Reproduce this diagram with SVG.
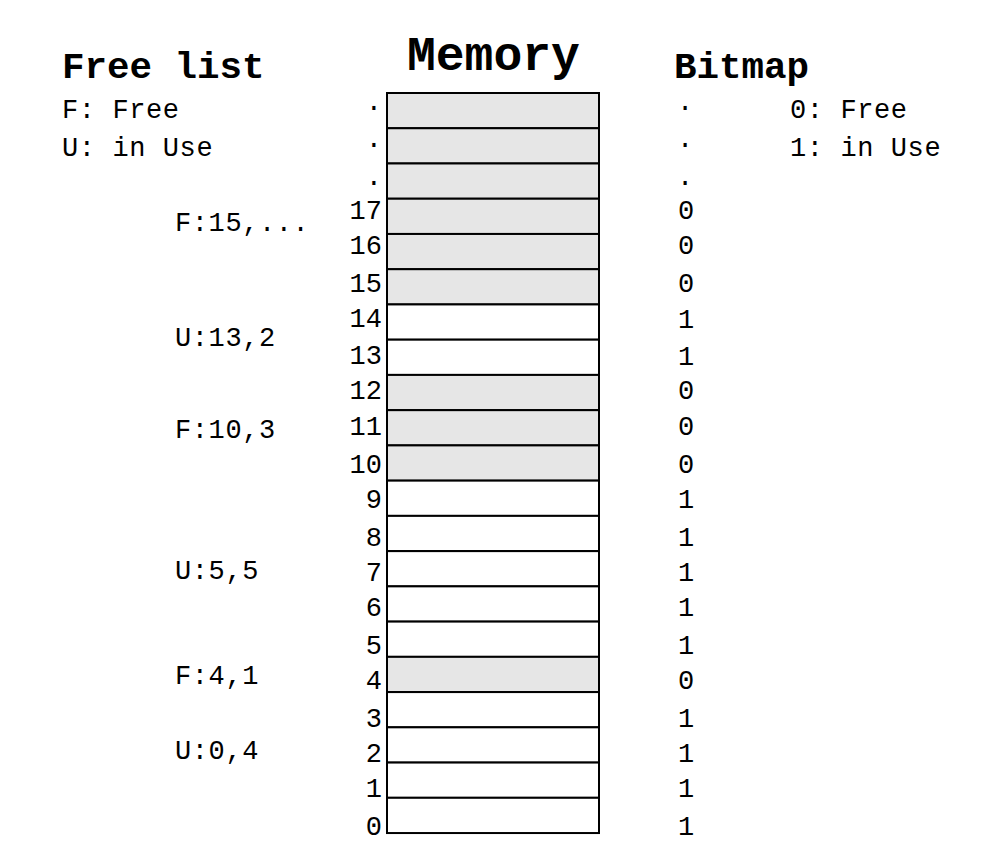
<svg xmlns="http://www.w3.org/2000/svg" width="987" height="864" viewBox="0 0 987 864">
<style>
text{font-family:"Liberation Mono","DejaVu Sans Mono",monospace;fill:#000}
.t{font-weight:bold;font-size:37.5px}
.m{font-weight:bold;font-size:48px}
.s{font-size:27px;letter-spacing:0.6px}
.n{font-size:27px;text-anchor:end}
.b{font-size:27px;text-anchor:middle}
.g{fill:#e6e6e6;stroke:#000;stroke-width:2}
.w{fill:#fff;stroke:#000;stroke-width:2}
</style>
<rect width="987" height="864" fill="#fff"/>
<g id="titles">
<text class="t" x="62" y="78">Free list</text>
<text class="m" x="407" y="70">Memory</text>
<text class="t" x="674" y="78">Bitmap</text>
</g>
<g id="legend">
<text class="s" x="62" y="118">F: Free</text>
<text class="s" x="62" y="156">U: in Use</text>
<text class="s" x="790" y="118">0: Free</text>
<text class="s" x="790" y="156">1: in Use</text>
</g>
<g id="memory">
<rect class="g" x="387" y="93" width="212" height="35.24"/>
<rect class="g" x="387" y="128.24" width="212" height="35.24"/>
<rect class="g" x="387" y="163.48" width="212" height="35.24"/>
<rect class="g" x="387" y="198.72" width="212" height="35.24"/>
<rect class="g" x="387" y="233.96" width="212" height="35.24"/>
<rect class="g" x="387" y="269.2" width="212" height="35.24"/>
<rect class="w" x="387" y="304.44" width="212" height="35.24"/>
<rect class="w" x="387" y="339.68" width="212" height="35.24"/>
<rect class="g" x="387" y="374.92" width="212" height="35.24"/>
<rect class="g" x="387" y="410.16" width="212" height="35.24"/>
<rect class="g" x="387" y="445.4" width="212" height="35.24"/>
<rect class="w" x="387" y="480.64" width="212" height="35.24"/>
<rect class="w" x="387" y="515.88" width="212" height="35.24"/>
<rect class="w" x="387" y="551.12" width="212" height="35.24"/>
<rect class="w" x="387" y="586.36" width="212" height="35.24"/>
<rect class="w" x="387" y="621.6" width="212" height="35.24"/>
<rect class="g" x="387" y="656.84" width="212" height="35.24"/>
<rect class="w" x="387" y="692.08" width="212" height="35.24"/>
<rect class="w" x="387" y="727.32" width="212" height="35.24"/>
<rect class="w" x="387" y="762.56" width="212" height="35.24"/>
<rect class="w" x="387" y="797.8" width="212" height="35.24"/>
</g>
<g id="addresses">
<text class="n" x="382" y="110">.</text>
<text class="n" x="382" y="147">.</text>
<text class="n" x="382" y="185">.</text>
<text class="n" x="382" y="219">17</text>
<text class="n" x="382" y="254">16</text>
<text class="n" x="382" y="292">15</text>
<text class="n" x="382" y="327">14</text>
<text class="n" x="382" y="364">13</text>
<text class="n" x="382" y="399">12</text>
<text class="n" x="382" y="435">11</text>
<text class="n" x="382" y="473">10</text>
<text class="n" x="382" y="508">9</text>
<text class="n" x="382" y="546">8</text>
<text class="n" x="382" y="581">7</text>
<text class="n" x="382" y="616">6</text>
<text class="n" x="382" y="654">5</text>
<text class="n" x="382" y="689">4</text>
<text class="n" x="382" y="727">3</text>
<text class="n" x="382" y="762">2</text>
<text class="n" x="382" y="797">1</text>
<text class="n" x="382" y="835">0</text>
</g>
<g id="bitmap">
<text class="b" x="685" y="110">.</text>
<text class="b" x="685" y="147">.</text>
<text class="b" x="685" y="185">.</text>
<text class="b" x="686" y="219">0</text>
<text class="b" x="686" y="254">0</text>
<text class="b" x="686" y="292">0</text>
<text class="b" x="686" y="328">1</text>
<text class="b" x="686" y="365">1</text>
<text class="b" x="686" y="399">0</text>
<text class="b" x="686" y="435">0</text>
<text class="b" x="686" y="473">0</text>
<text class="b" x="686" y="508">1</text>
<text class="b" x="686" y="546">1</text>
<text class="b" x="686" y="581">1</text>
<text class="b" x="686" y="616">1</text>
<text class="b" x="686" y="654">1</text>
<text class="b" x="686" y="689">0</text>
<text class="b" x="686" y="727">1</text>
<text class="b" x="686" y="762">1</text>
<text class="b" x="686" y="797">1</text>
<text class="b" x="686" y="835">1</text>
</g>
<g id="freelist">
<text class="s" x="175" y="231">F:15,...</text>
<text class="s" x="175" y="346">U:13,2</text>
<text class="s" x="175" y="438">F:10,3</text>
<text class="s" x="175" y="579">U:5,5</text>
<text class="s" x="175" y="684">F:4,1</text>
<text class="s" x="175" y="759">U:0,4</text>
</g>
</svg>
